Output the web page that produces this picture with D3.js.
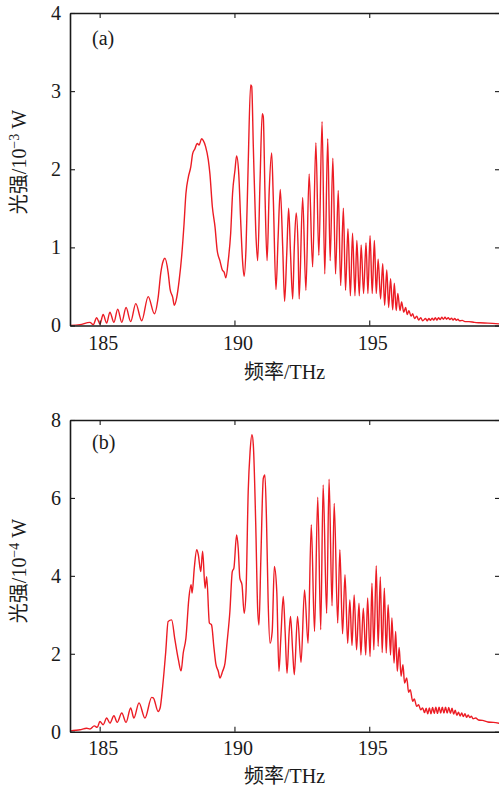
<!DOCTYPE html>
<html><head><meta charset="utf-8">
<script src="https://cdn.jsdelivr.net/npm/d3@7"></script>
<style>body{margin:0;background:#fff} svg{display:block}</style>
</head><body>
<svg id="c" width="499" height="794"></svg>
<script>
// Panel (a): frequency (THz), optical power (10^-3 W)
const spectrumA = [
[183.90,0.00],[184.27,0.01],[184.64,0.04],[184.76,0.01],[184.89,0.10],[185.01,0.02],[185.13,0.14],[185.26,0.03],
[185.38,0.17],[185.53,0.04],[185.67,0.21],[185.82,0.04],[185.98,0.23],[186.15,0.05],[186.34,0.28],[186.56,0.06],
[186.80,0.37],[187.03,0.15],[187.17,0.36],[187.27,0.68],[187.36,0.83],[187.42,0.86],[187.54,0.68],[187.61,0.47],
[187.71,0.36],[187.77,0.26],[187.86,0.36],[187.95,0.58],[188.04,0.88],[188.13,1.30],[188.20,1.69],[188.29,1.90],
[188.38,2.03],[188.45,2.20],[188.53,2.26],[188.62,2.33],[188.69,2.31],[188.78,2.39],[188.84,2.37],[188.93,2.29],
[189.03,2.12],[189.09,1.94],[189.18,1.52],[189.28,1.26],[189.36,0.96],[189.46,0.83],[189.55,0.71],[189.62,0.68],
[189.68,0.61],[189.77,0.83],[189.86,1.18],[189.93,1.69],[190.02,1.99],[190.08,2.17],[190.16,1.94],[190.23,1.35],
[190.30,0.83],[190.36,0.63],[190.43,1.00],[190.51,2.07],[190.60,3.08],[190.64,3.06],[190.70,2.29],[190.79,1.22],
[190.86,0.83],[190.95,1.86],[191.03,2.71],[191.07,2.67],[191.13,1.73],[191.21,0.83],[191.29,1.73],[191.38,2.21],
[191.44,1.64],[191.54,0.46],[191.62,1.13],[191.70,1.74],[191.79,1.00],[191.86,0.31],[191.94,0.92],[192.01,1.50],
[192.08,0.92],[192.16,0.34],[192.22,1.00],[192.29,1.44],[192.36,1.00],[192.40,0.34],[192.53,1.64],[192.65,0.45],
[192.77,1.94],[192.90,0.75],[193.02,2.34],[193.13,0.90],[193.25,2.61],[193.35,0.66],[193.46,2.39],[193.55,0.83],
[193.65,2.14],[193.75,0.66],[193.85,1.73],[193.94,0.51],[194.04,1.50],[194.12,0.45],[194.21,1.24],[194.30,0.38],
[194.38,1.18],[194.47,0.38],[194.54,1.09],[194.63,0.38],[194.70,1.03],[194.79,0.41],[194.88,1.06],[194.95,0.41],
[195.03,1.15],[195.11,0.41],[195.19,1.09],[195.26,0.41],[195.33,0.85],[195.42,0.34],[195.50,0.79],[195.57,0.26],
[195.65,0.71],[195.72,0.23],[195.79,0.60],[195.87,0.20],[195.93,0.54],[196.00,0.19],[196.06,0.41],[196.14,0.19],
[196.20,0.30],[196.28,0.17],[196.35,0.23],[196.41,0.14],[196.47,0.19],[196.55,0.12],[196.61,0.15],[196.68,0.09],
[196.76,0.12],[196.83,0.07],[196.91,0.10],[196.98,0.06],[197.09,0.09],[197.15,0.06],[197.21,0.09],[197.27,0.065],
[197.33,0.095],[197.39,0.07],[197.45,0.10],[197.51,0.07],[197.57,0.10],[197.63,0.075],[197.69,0.105],[197.75,0.08],
[197.81,0.105],[197.87,0.08],[197.93,0.10],[197.99,0.075],[198.05,0.095],[198.11,0.07],[198.17,0.09],[198.23,0.065],
[198.29,0.08],[198.35,0.06],[198.45,0.065],[198.55,0.05],[198.70,0.05],[198.90,0.04],[199.10,0.035],[199.40,0.03],
[199.85,0.02]
];
// Panel (b): frequency (THz), optical power (10^-4 W)
const spectrumB = [
[183.90,0.00],[183.94,0.02],[184.27,0.05],[184.52,0.09],[184.64,0.07],[184.80,0.15],[184.91,0.11],[185.01,0.26],
[185.13,0.18],[185.26,0.35],[185.38,0.22],[185.53,0.41],[185.65,0.24],[185.82,0.48],[185.98,0.24],[186.15,0.61],
[186.27,0.35],[186.46,0.74],[186.68,0.35],[186.93,0.88],[186.99,0.87],[187.17,0.52],[187.24,0.60],[187.34,1.18],
[187.45,2.04],[187.54,2.83],[187.67,2.87],[187.79,2.37],[187.92,1.85],[188.02,1.56],[188.10,2.02],[188.20,2.40],
[188.31,3.43],[188.39,3.77],[188.43,3.56],[188.51,4.20],[188.60,4.67],[188.66,4.54],[188.75,4.11],[188.82,4.63],
[188.91,3.68],[188.97,3.98],[189.07,2.79],[189.15,2.74],[189.24,2.15],[189.31,1.74],[189.40,1.55],[189.46,1.38],
[189.56,1.55],[189.65,1.76],[189.73,2.32],[189.83,3.08],[189.92,4.11],[189.98,4.20],[190.08,5.05],[190.14,4.71],
[190.20,3.94],[190.28,3.77],[190.36,3.04],[190.43,3.60],[190.51,6.16],[190.58,7.19],[190.65,7.62],[190.70,7.36],
[190.79,5.31],[190.86,3.17],[190.91,2.74],[190.98,4.45],[191.07,6.50],[191.13,6.59],[191.19,5.39],[191.25,3.34],
[191.32,2.27],[191.40,2.57],[191.48,4.24],[191.57,3.60],[191.65,1.55],[191.72,2.40],[191.81,3.47],[191.88,2.57],
[191.95,1.50],[192.03,2.57],[192.08,2.96],[192.16,2.06],[192.22,1.46],[192.34,2.96],[192.47,1.78],[192.60,3.64],
[192.73,2.27],[192.85,5.31],[192.97,2.57],[193.09,6.02],[193.20,2.62],[193.29,6.33],[193.42,3.04],[193.51,6.48],
[193.62,3.23],[193.70,5.86],[193.83,2.79],[193.91,4.67],[194.01,2.51],[194.10,4.03],[194.20,2.27],[194.28,3.38],
[194.36,2.21],[194.44,3.51],[194.53,2.10],[194.62,3.30],[194.69,1.97],[194.78,3.17],[194.87,1.97],[194.94,3.43],
[195.03,1.93],[195.10,3.81],[195.17,2.10],[195.26,4.26],[195.33,2.19],[195.41,3.97],[195.48,2.03],[195.56,3.68],
[195.63,2.02],[195.70,3.26],[195.79,1.97],[195.84,2.92],[195.92,1.76],[195.98,2.57],[196.04,1.55],[196.11,2.16],
[196.18,1.42],[196.25,1.72],[196.31,1.25],[196.39,1.38],[196.46,1.01],[196.52,1.08],[196.61,0.78],[196.67,0.84],
[196.76,0.65],[196.83,0.69],[196.91,0.56],[196.98,0.61],[197.05,0.49],[197.11,0.60],[197.17,0.46],[197.23,0.61],
[197.29,0.46],[197.35,0.62],[197.41,0.47],[197.47,0.63],[197.53,0.47],[197.59,0.63],[197.65,0.48],[197.71,0.63],
[197.77,0.48],[197.83,0.63],[197.89,0.48],[197.95,0.62],[198.01,0.47],[198.07,0.60],[198.13,0.45],[198.19,0.55],
[198.25,0.42],[198.31,0.50],[198.37,0.40],[198.43,0.48],[198.49,0.39],[198.55,0.46],[198.61,0.37],[198.67,0.43],
[198.73,0.36],[198.79,0.40],[198.85,0.33],[198.95,0.35],[199.05,0.30],[199.20,0.29],[199.40,0.25],[199.60,0.24],
[199.85,0.21]
];
const xDomain = [183.9, 199.85];
const xTicks = [185, 190, 195];
const yTicksA = [0, 1, 2, 3, 4];
const yTicksB = [0, 2, 4, 6, 8];
const panelLabels = ["(a)", "(b)"];
const yExponents = ["−3", "−4"];
const xTitle = "频率/THz";

const svg = d3.select("#c");
const serif = "'Liberation Serif','Noto Sans CJK SC',serif";
const ink = "#1a1a1a";
const red = "#ec1c24";

const panels = [
  {data: spectrumA, yMax: 4, yTicks: yTicksA, label: panelLabels[0], exp: yExponents[0],
   top: 13, bottom: 325.5, tickPad: 10.5, xTitleY: 379, yTitleY: 162, labelY: 45},
  {data: spectrumB, yMax: 8, yTicks: yTicksB, label: panelLabels[1], exp: yExponents[1],
   top: 420, bottom: 731.7, tickPad: 9, xTitleY: 783, yTitleY: 571, labelY: 449}
];
const left = 70, right = 500;

panels.forEach((p, i) => {
  const x = d3.scaleLinear().domain(xDomain).range([left, right]);
  const y = d3.scaleLinear().domain([0, p.yMax]).range([p.bottom, p.top]);
  const g = svg.append("g");

  g.append("clipPath").attr("id", "clip" + i)
    .append("rect").attr("x", left).attr("y", p.top).attr("width", right - left).attr("height", p.bottom - p.top);

  const line = d3.line().x(d => x(d[0])).y(d => y(d[1])).curve(d3.curveMonotoneX);
  g.append("path").datum(p.data)
    .attr("clip-path", "url(#clip" + i + ")")
    .attr("d", line).attr("fill", "none").attr("stroke", red)
    .attr("stroke-width", 1.4).attr("stroke-linejoin", "round");

  const style = s => {
    s.select(".domain").attr("stroke", ink).attr("stroke-width", 1.6);
    s.selectAll(".tick line").attr("stroke", ink).attr("stroke-width", 1.1);
    s.selectAll(".tick text").attr("fill", ink).style("font-family", serif).style("font-size", "20px");
  };

  g.append("g").attr("transform", `translate(0,${p.bottom})`)
    .call(d3.axisBottom(x).tickValues(xTicks).tickSizeInner(-5).tickSizeOuter(0).tickPadding(p.tickPad))
    .call(style).call(s => s.selectAll(".tick text").attr("dx", 3));
  g.append("g").attr("transform", `translate(0,${p.top})`)
    .call(d3.axisTop(x).tickValues(xTicks).tickSizeInner(-5).tickSizeOuter(0).tickFormat(""))
    .call(style);
  g.append("g").attr("transform", `translate(${left},0)`)
    .call(d3.axisLeft(y).tickValues(p.yTicks).tickSizeInner(-5).tickSizeOuter(0).tickPadding(9).tickFormat(d3.format("d")))
    .call(style);
  g.append("g").attr("transform", `translate(${right},0)`)
    .call(d3.axisRight(y).tickValues(p.yTicks).tickSizeInner(-5).tickSizeOuter(0).tickFormat(""))
    .call(style);

  g.append("text").attr("x", 92).attr("y", p.labelY)
    .style("font-family", serif).style("font-size", "20px").attr("fill", ink).text(p.label);

  g.append("text").attr("x", (left + 499) / 2).attr("y", p.xTitleY).attr("text-anchor", "middle")
    .style("font-family", serif).style("font-size", "20px").attr("fill", ink).text(xTitle);

  const yt = g.append("text").attr("transform", `translate(26,${p.yTitleY}) rotate(-90)`)
    .attr("text-anchor", "middle").style("font-family", serif).style("font-size", "20px").attr("fill", ink);
  yt.append("tspan").text("光强/10");
  yt.append("tspan").attr("dy", -7).style("font-size", "14px").text(p.exp);
  yt.append("tspan").attr("dy", 7).text(" W");
});
</script>
</body></html>
